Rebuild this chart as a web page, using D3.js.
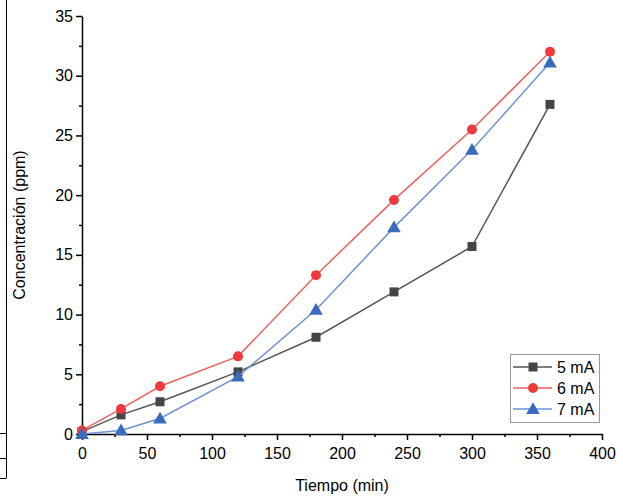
<!DOCTYPE html>
<html><head><meta charset="utf-8">
<script src="https://cdn.jsdelivr.net/npm/d3@7"></script>
<style>body{margin:0;background:#fff}text{font-family:Arial,"Liberation Sans",sans-serif}</style>
</head><body>
<svg id="c" width="623" height="497"></svg>
<script>
var tiempo = [0, 30, 60, 120, 180, 240, 300, 360];
var s5 = [0.2, 1.6, 2.7, 5.2, 8.1, 11.9, 15.7, 27.6];
var s6 = [0.3, 2.1, 4.0, 6.5, 13.3, 19.6, 25.5, 32.0];
var s7 = [0.0, 0.3, 1.3, 4.8, 10.4, 17.3, 23.8, 31.1];
var names = ["5 mA", "6 mA", "7 mA"];
var colors = ["#454545", "#ee3a3a", "#3b6bbf"];
var lineColors = ["#555555", "#f06060", "#6f93d6"];
var series = [s5, s6, s7];

var svg = d3.select("#c");
var x = d3.scaleLinear().domain([0, 400]).range([82, 602]);
var y = d3.scaleLinear().domain([0, 35]).range([434, 16]);

// left edge remnants
svg.append("line").attr("x1", 6.5).attr("x2", 6.5).attr("y1", 0).attr("y2", 478).attr("stroke", "#000");
[433, 458, 478].forEach(function(v){
	svg.append("line").attr("x1", 0).attr("x2", 6.5).attr("y1", v + .5).attr("y2", v + .5).attr("stroke", "#000");
});

var xa = svg.append("g").attr("transform", "translate(0,434)")
	.call(d3.axisBottom(x).tickValues(d3.range(0, 401, 50)).tickSize(6).tickSizeOuter(0));
svg.append("g").attr("transform", "translate(0,434)")
	.call(d3.axisBottom(x).tickValues(d3.range(25, 400, 50)).tickSize(3).tickFormat(""))
	.select(".domain").remove();
var ya = svg.append("g").attr("transform", "translate(82,0)")
	.call(d3.axisLeft(y).tickValues(d3.range(0, 36, 5)).tickSize(6).tickSizeOuter(0));
svg.append("g").attr("transform", "translate(82,0)")
	.call(d3.axisLeft(y).tickValues(d3.range(2.5, 35, 5)).tickSize(3).tickFormat(""))
	.select(".domain").remove();
svg.selectAll(".tick text").style("font-size", "16px").style("font-family", "Arial,'Liberation Sans',sans-serif").attr("fill", "#000");
svg.selectAll(".domain,.tick line").attr("stroke", "#000").attr("stroke-width", 1.5);
xa.selectAll(".tick text").attr("dy", "1em");

svg.append("text").attr("x", 342).attr("y", 491).attr("text-anchor", "middle").style("font-size", "16px").text("Tiempo (min)");
svg.append("text").attr("transform", "translate(25,225) rotate(-90)").attr("text-anchor", "middle").style("font-size", "16px").text("Concentración (ppm)");

var line = d3.line().x(function(d, i){ return x(tiempo[i]); }).y(function(d){ return y(d); });
var tri = d3.symbol().type(d3.symbolTriangle).size(80);

function marker(g, k, cx, cy) {
	if (k == 0) g.append("rect").attr("x", cx - 4.5).attr("y", cy - 4.5).attr("width", 9).attr("height", 9).attr("fill", colors[k]);
	else if (k == 1) g.append("circle").attr("cx", cx).attr("cy", cy).attr("r", 5).attr("fill", colors[k]);
	else g.append("path").attr("d", tri).attr("transform", "translate(" + cx + "," + (cy + 1) + ")").attr("fill", colors[k]);
}

series.forEach(function(s, k){
	svg.append("path").datum(s).attr("d", line).attr("fill", "none").attr("stroke", lineColors[k]).attr("stroke-width", 1.5);
	s.forEach(function(v, i){ marker(svg, k, x(tiempo[i]), y(v)); });
});

var lg = svg.append("g");
lg.append("rect").attr("x", 510.5).attr("y", 354.5).attr("width", 89).attr("height", 68).attr("fill", "#fff").attr("stroke", "#999");
names.forEach(function(n, k){
	var ly = 367 + k * 21;
	lg.append("line").attr("x1", 513).attr("x2", 552).attr("y1", ly).attr("y2", ly).attr("stroke", lineColors[k]).attr("stroke-width", 1.5);
	marker(lg, k, 533, ly);
	lg.append("text").attr("x", 557).attr("y", ly + 5.5).style("font-size", "16px").text(n);
});
</script>
</body></html>
